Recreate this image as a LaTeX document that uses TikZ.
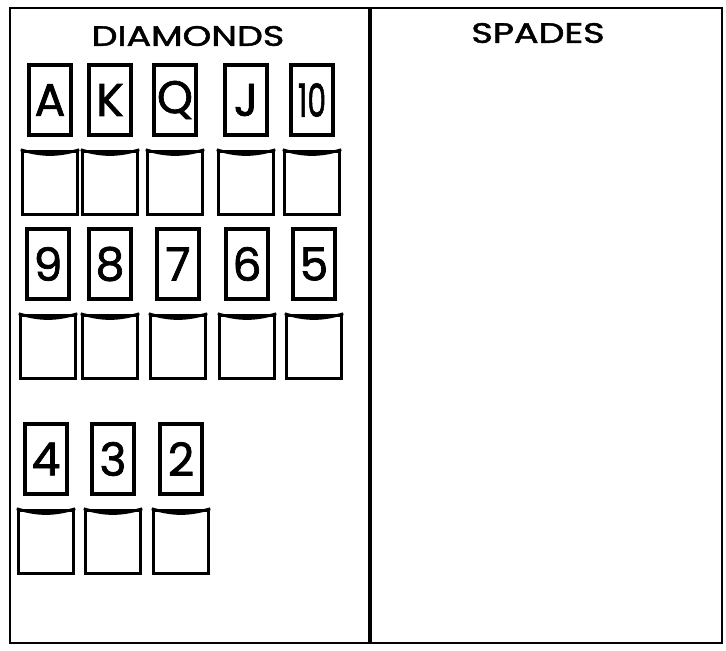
\documentclass[tikz,border=0pt]{standalone}
\usepackage{fontspec}
\setmainfont{Poppins}
\newfontfamily\handfont{Poppins}[FakeBold=1.6]
\usetikzlibrary{positioning}
\tikzset{
  card/.style={draw, line width=2pt, minimum width=0.84cm, minimum height=1.4cm, inner sep=0pt, font=\handfont\fontsize{26}{28}\selectfont},
  pocket/.style={draw, line width=2pt, minimum width=1.1cm, minimum height=1.26cm, inner sep=0pt},
  suit/.style={font=\handfont\fontsize{16}{18}\selectfont}
}
\begin{document}
\begin{tikzpicture}[x=0.02cm, y=-0.02cm, node distance=0.26cm]
  \useasboundingbox (0,0) rectangle (726,650);
  % board and divider
  \draw[line width=1.4pt] (10,8) rectangle (722,643);
  \draw[line width=2.6pt] (370,8) -- (370,643);
  \node[suit] (diamonds) at (188,36) {\scalebox{1.3}[1]{DIAMONDS}};
  \node[suit] (spades) at (538,33) {\scalebox{1.3}[1]{SPADES}};
  % cards with their pockets
  \foreach \lbl/\cx/\cy in {A/50/100, K/110/100, Q/175/100, J/246/100, 10/312/100,
                            9/48/264, 8/110/264, 7/178/264, 6/247/264, 5/314/264,
                            4/46/459, 3/113/459, 2/181/459} {
    \node[card] (c-\lbl) at (\cx,\cy) {\ifnum\pdfstrcmp{\lbl}{10}=0 \scalebox{0.65}[1]{10}\else\lbl\fi};
    \node[pocket, below=of c-\lbl] (p-\lbl) {};
    \draw[line width=1.6pt] (p-\lbl.north west) to[bend right=16] (p-\lbl.north east);
  }
\end{tikzpicture}
\end{document}
